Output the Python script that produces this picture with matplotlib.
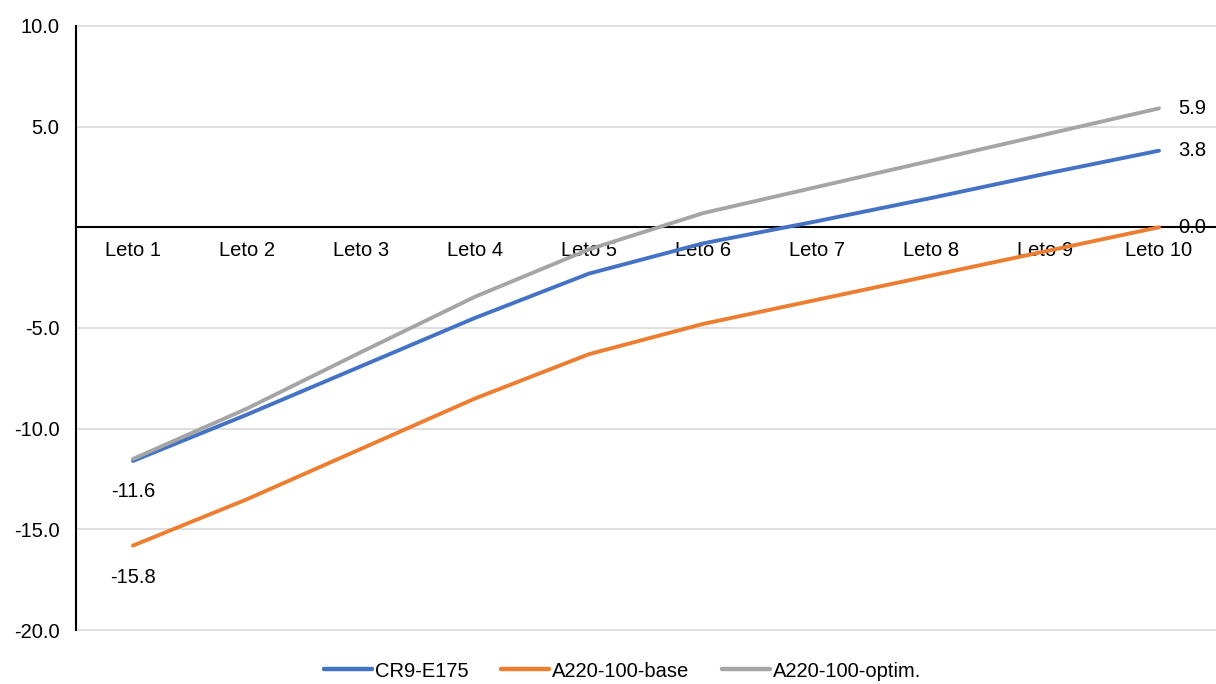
import matplotlib.pyplot as plt

plt.rcParams['font.family'] = ['Liberation Sans', 'DejaVu Sans']

leta = [f"Leto {i}" for i in range(1, 11)]
cr9_e175 = [-11.6, -9.3, -6.9, -4.5, -2.3, -0.8, 0.3, 1.45, 2.65, 3.8]
a220_base = [-15.8, -13.5, -11.0, -8.5, -6.3, -4.8, -3.6, -2.4, -1.2, 0.0]
a220_optim = [-11.5, -9.0, -6.2, -3.45, -1.1, 0.7, 2.0, 3.3, 4.6, 5.9]

names = ["CR9-E175", "A220-100-base", "A220-100-optim."]
colors = ["#4472C4", "#ED7D31", "#A5A5A5"]
yticks = [-20, -15, -10, -5, 5, 10]
fs = 14.5

fig = plt.figure(figsize=(12.16, 6.84), dpi=100)
ax = fig.add_axes([0.0625, 0.0775, 0.9375, 0.886])

x = list(range(len(leta)))
for series, name, col in zip([cr9_e175, a220_base, a220_optim], names, colors):
    ax.plot(x, series, color=col, lw=2.8, label=name, solid_capstyle='round', zorder=3)

ax.set_xlim(-0.5, 9.5)
ax.set_ylim(-20.04, 10.04)
ax.set_yticks(yticks)
ax.set_yticklabels([f"{v:.1f}" for v in yticks], fontsize=fs)
ax.tick_params(axis='y', length=0, pad=12)
ax.grid(axis='y', color='#D9D9D9', lw=1.2, zorder=0)

# category axis runs along y = 0
ax.spines['bottom'].set_position(('data', 0))
ax.spines['bottom'].set_linewidth(1.5)
ax.spines['left'].set_linewidth(1.5)
ax.spines['left'].set_bounds(-20, 10)
ax.spines['right'].set_visible(False)
ax.spines['top'].set_visible(False)
ax.set_xticks(x)
ax.set_xticklabels(leta, fontsize=fs)
ax.tick_params(axis='x', length=0, pad=10)

# data labels at the ends of the lines
ax.annotate(f"{cr9_e175[0]:.1f}", (0, cr9_e175[0]), xytext=(0, -15), textcoords='offset points',
            ha='center', va='top', fontsize=fs)
ax.annotate(f"{a220_base[0]:.1f}", (0, a220_base[0]), xytext=(0, -16), textcoords='offset points',
            ha='center', va='top', fontsize=fs)
for series in [a220_optim, cr9_e175, a220_base]:
    ax.annotate(f"{series[-1]:.1f}", (9, series[-1]), xytext=(14, 0), textcoords='offset points',
                ha='left', va='center', fontsize=fs)

leg = fig.legend(loc='center', bbox_to_anchor=(0.512, 0.019), ncol=3, frameon=False, fontsize=fs,
                 handlelength=2.4, handletextpad=0.15, columnspacing=1.6, borderpad=0.2)
for line in leg.get_lines():
    line.set_linewidth(3.2)

fig.savefig("out.png", dpi=100)
